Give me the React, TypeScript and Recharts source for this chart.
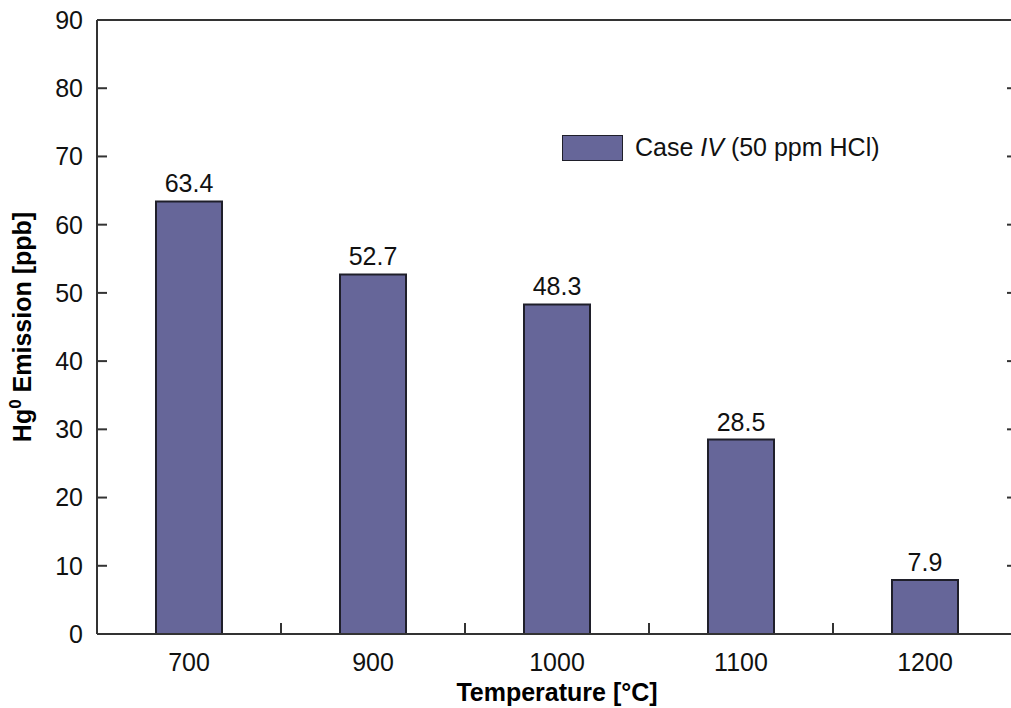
import { Bar, BarChart, LabelList, XAxis, YAxis } from "recharts";

const temperatures = ["700", "900", "1000", "1100", "1200"];
const hgEmission = [63.4, 52.7, 48.3, 28.5, 7.9];
const yTicks = [0, 10, 20, 30, 40, 50, 60, 70, 80, 90];

const data = temperatures.map((temp, i) => ({ temp, hg: hgEmission[i] }));

const FONT = '"Liberation Sans", Arial, Helvetica, sans-serif';
const AXIS = "#333333";
const BAR = "#666699";

const CHART_W = 1030;
const MARGIN = { top: 20, right: 13, bottom: 0, left: 0 };
const Y_AXIS_W = 97;
const PLOT_W = CHART_W - MARGIN.left - MARGIN.right - Y_AXIS_W;
const BAND = PLOT_W / temperatures.length;
const X_GAP = 19;
const Y_GAP = 14;
const TICK_LEN = 10;

function YTitle({ viewBox }: any) {
  const cx = 31;
  const cy = viewBox.y + viewBox.height / 2;
  return (
    <text
      x={cx}
      y={cy}
      transform={`rotate(-90, ${cx}, ${cy})`}
      textAnchor="middle"
      fontFamily={FONT}
      fontSize={25}
      fontWeight="bold"
      fill="#000"
    >
      Hg
      <tspan dy={-10} fontSize={17}>0</tspan>
      <tspan dy={10}> Emission [ppb]</tspan>
    </text>
  );
}

function XTitle({ viewBox }: any) {
  return (
    <text
      x={viewBox.x + viewBox.width / 2}
      y={viewBox.y + 67}
      textAnchor="middle"
      fontFamily={FONT}
      fontSize={25}
      fontWeight="bold"
      fill="#000"
    >
      Temperature [°C]
    </text>
  );
}

// category label + inward tick on the boundary to its right
function XTick({ x, y, payload, index }: any) {
  const axisY = y - X_GAP;
  const edge = x + BAND / 2;
  return (
    <g>
      <text x={x} y={y} dy="0.71em" textAnchor="middle" fontFamily={FONT} fontSize={25} fill="#111">
        {payload.value}
      </text>
      {index < temperatures.length - 1 && (
        <line x1={edge} x2={edge} y1={axisY} y2={axisY - 11} stroke={AXIS} strokeWidth={2} />
      )}
    </g>
  );
}

// value label + inward ticks on both left and right frame
function YTick({ x, y, payload }: any) {
  const left = x + Y_GAP;
  const right = left + PLOT_W;
  const inner = payload.value !== yTicks[0] && payload.value !== yTicks[yTicks.length - 1];
  return (
    <g>
      <text x={x} y={y} dy="0.355em" textAnchor="end" fontFamily={FONT} fontSize={25} fill="#111">
        {payload.value}
      </text>
      {inner && (
        <>
          <line x1={left} x2={left + TICK_LEN} y1={y} y2={y} stroke={AXIS} strokeWidth={2} />
          <line x1={right - TICK_LEN} x2={right} y1={y} y2={y} stroke={AXIS} strokeWidth={2} />
        </>
      )}
    </g>
  );
}

export default function App() {
  return (
    <div style={{ position: "absolute", left: 0, top: 0, width: 1011, height: 708, overflow: "hidden", background: "#fff" }}>
      <BarChart width={CHART_W} height={708} data={data} margin={MARGIN}>
        <XAxis
          dataKey="temp"
          height={74}
          interval={0}
          tickLine={false}
          tickSize={0}
          tickMargin={X_GAP}
          tick={<XTick />}
          axisLine={{ stroke: AXIS, strokeWidth: 2 }}
          label={<XTitle />}
        />
        <XAxis
          xAxisId="top"
          type="number"
          orientation="top"
          mirror
          domain={[0, 5]}
          allowDataOverflow
          tick={false}
          tickLine={false}
          height={1}
          axisLine={{ stroke: AXIS, strokeWidth: 2 }}
        />
        <YAxis
          width={Y_AXIS_W}
          domain={[0, 90]}
          ticks={yTicks}
          interval={0}
          tickLine={false}
          tickSize={0}
          tickMargin={Y_GAP}
          tick={<YTick />}
          axisLine={{ stroke: AXIS, strokeWidth: 2 }}
          label={<YTitle />}
        />
        <YAxis
          yAxisId="right"
          orientation="right"
          mirror
          width={10}
          domain={[0, 90]}
          allowDataOverflow
          tick={false}
          tickLine={false}
          axisLine={{ stroke: AXIS, strokeWidth: 2 }}
        />
        <Bar dataKey="hg" fill={BAR} stroke="#1f1f2a" strokeWidth={2} barSize={66} isAnimationActive={false}>
          <LabelList dataKey="hg" position="top" offset={9} style={{ fontSize: 25, fontFamily: FONT, fill: "#111" }} />
        </Bar>
      </BarChart>
      <div
        style={{
          position: "absolute",
          left: 562,
          top: 133,
          display: "flex",
          alignItems: "center",
          fontFamily: FONT,
          fontSize: 25,
          color: "#111",
          whiteSpace: "nowrap",
        }}
      >
        <span style={{ display: "inline-block", width: 59, height: 24, background: BAR, border: "1px solid #1f1f2a", marginRight: 12 }} />
        <span>
          Case <i>IV</i> (50 ppm HCl)
        </span>
      </div>
    </div>
  );
}
